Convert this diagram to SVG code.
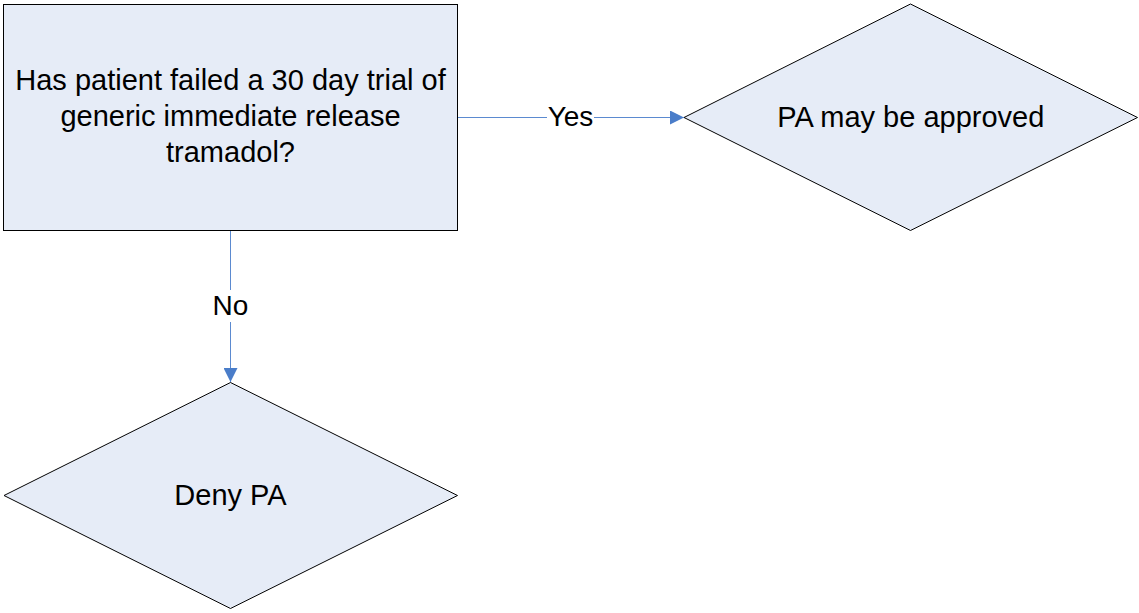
<svg xmlns="http://www.w3.org/2000/svg" width="1139" height="613" viewBox="0 0 1139 613">
  <style>
    .shape { fill: #E6ECF7; stroke: #000000; stroke-width: 1; }
    .txt { font-family: "Liberation Sans", Arial, sans-serif; font-size: 29px; fill: #000000; text-anchor: middle; }
    .lbl { font-family: "Liberation Sans", Arial, sans-serif; font-size: 28px; fill: #000000; text-anchor: middle; }
    .conn { fill: none; stroke: #5B8AD0; stroke-width: 1; }
  </style>
  <defs>
    <marker id="arrow" viewBox="0 0 14 14" refX="14" refY="7" markerWidth="14" markerHeight="14" markerUnits="userSpaceOnUse" orient="auto">
      <path d="M0,0 L14,7 L0,14 Z" fill="#4A7DC9"/>
    </marker>
  </defs>

  <!-- connectors -->
  <g id="connectors">
    <g id="edge-yes">
      <path class="conn" d="M457.5,117.5 L547,117.5 M594,117.5 L684,117.5" marker-end="url(#arrow)"/>
      <text class="lbl" x="570.5" y="126">Yes</text>
    </g>
    <g id="edge-no">
      <path class="conn" d="M230.5,231 L230.5,290 M230.5,322 L230.5,382" marker-end="url(#arrow)"/>
      <text class="lbl" x="230.5" y="315">No</text>
    </g>
  </g>

  <!-- question box -->
  <g id="node-question">
    <rect class="shape" x="3.5" y="4.5" width="454" height="226"/>
    <text class="txt" x="230.5" y="90">Has patient failed a 30 day trial of</text>
    <text class="txt" x="230.5" y="126">generic immediate release</text>
    <text class="txt" x="230.5" y="162">tramadol?</text>
  </g>

  <!-- outcome: approve -->
  <g id="node-approve">
    <polygon class="shape" points="910.5,4 1137.5,117.5 910.5,230.5 684,117.5"/>
    <text class="txt" x="910.8" y="127">PA may be approved</text>
  </g>

  <!-- outcome: deny -->
  <g id="node-deny">
    <polygon class="shape" points="230.5,382.5 457.5,495.5 230.5,608.5 4,495.5"/>
    <text class="txt" x="230.5" y="505">Deny PA</text>
  </g>
</svg>
